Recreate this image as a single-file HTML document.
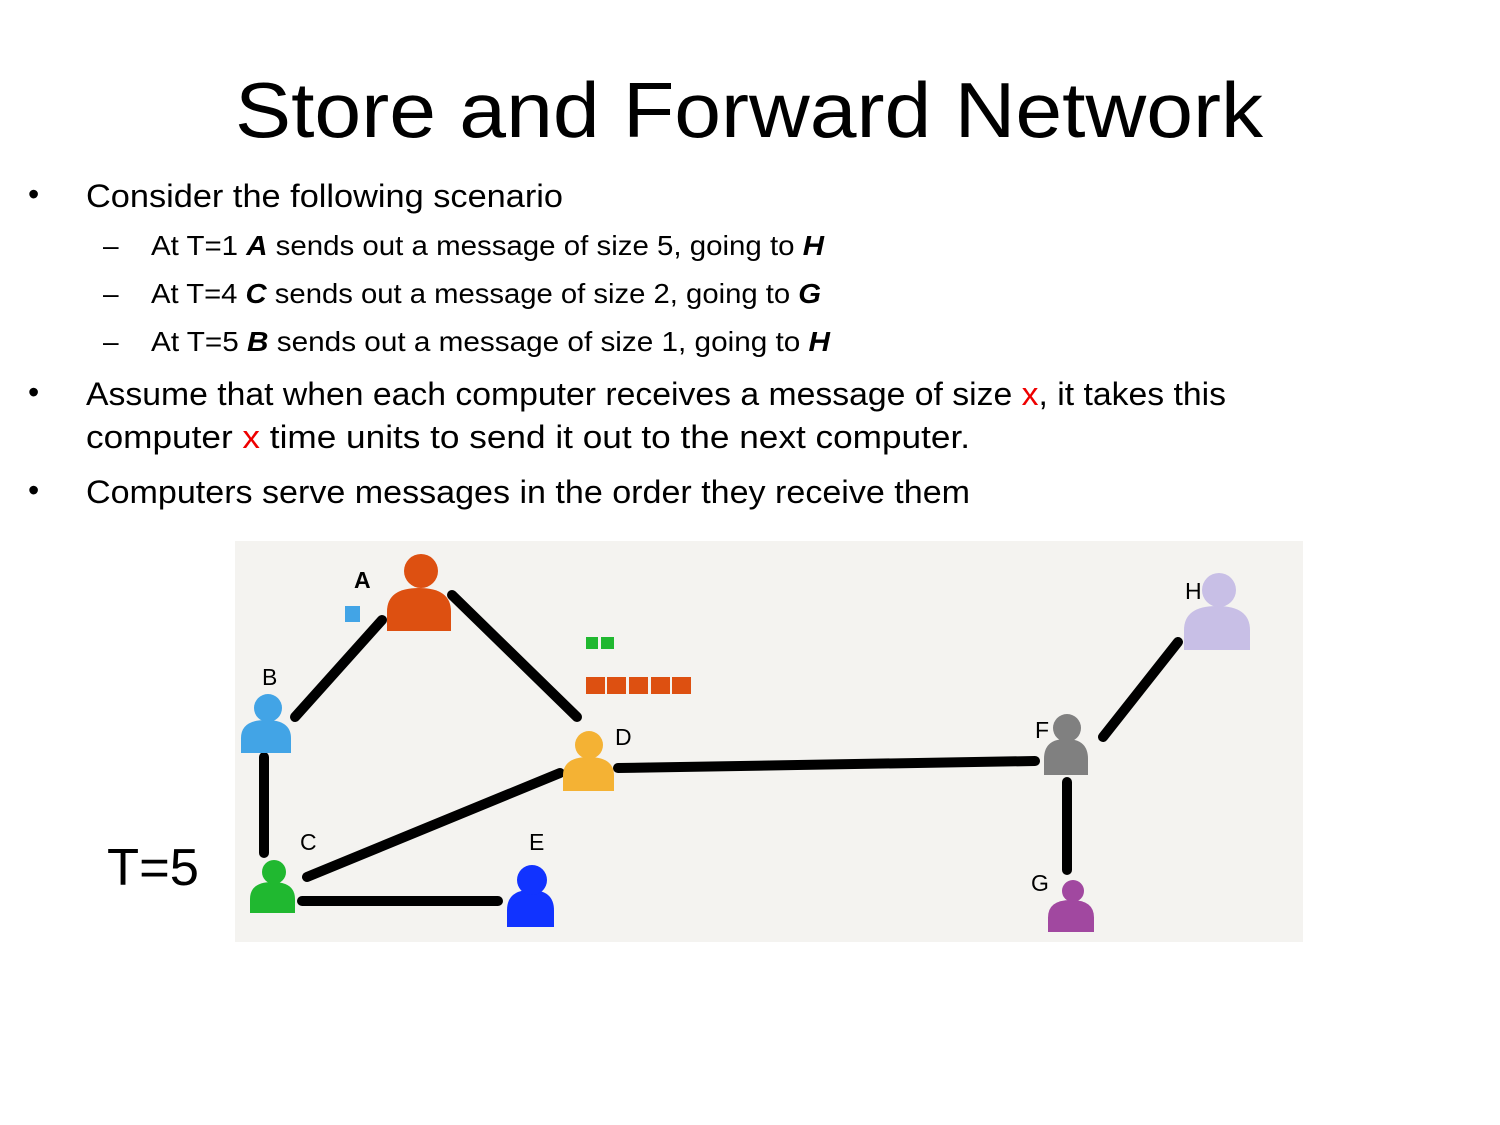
<!DOCTYPE html>
<html><head><meta charset="utf-8"><style>
html,body{margin:0;padding:0;background:#fff;}
svg{display:block;}
text{font-family:"Liberation Sans",sans-serif;}
</style></head><body>
<svg id="s" width="1500" height="1125" viewBox="0 0 1500 1125" xmlns="http://www.w3.org/2000/svg">
<rect width="1500" height="1125" fill="#fff"/>
<text x="235" y="137" font-size="78" textLength="1028" lengthAdjust="spacingAndGlyphs">Store and Forward Network</text>
<g font-size="32">
<text x="28" y="205">•</text>
<text x="86" y="207" textLength="477" lengthAdjust="spacingAndGlyphs">Consider the following scenario</text>
<text x="28" y="403">•</text>
<text x="86" y="405" textLength="1140" lengthAdjust="spacingAndGlyphs">Assume that when each computer receives a message of size <tspan fill="#e00">x</tspan>, it takes this</text>
<text x="86" y="448" textLength="884" lengthAdjust="spacingAndGlyphs">computer <tspan fill="#e00">x</tspan> time units to send it out to the next computer.</text>
<text x="28" y="501">•</text>
<text x="86" y="503" textLength="884" lengthAdjust="spacingAndGlyphs">Computers serve messages in the order they receive them</text>
</g>
<g font-size="28">
<text x="103" y="255">–</text><text x="103" y="303">–</text><text x="103" y="351">–</text>
<text x="151" y="255" textLength="673" lengthAdjust="spacingAndGlyphs">At T=1 <tspan font-weight="bold" font-style="italic">A</tspan> sends out a message of size 5, going to <tspan font-weight="bold" font-style="italic">H</tspan></text>
<text x="151" y="303" textLength="670" lengthAdjust="spacingAndGlyphs">At T=4 <tspan font-weight="bold" font-style="italic">C</tspan> sends out a message of size 2, going to <tspan font-weight="bold" font-style="italic">G</tspan></text>
<text x="151" y="351" textLength="679" lengthAdjust="spacingAndGlyphs">At T=5  <tspan font-weight="bold" font-style="italic">B</tspan> sends out a message of size 1, going to <tspan font-weight="bold" font-style="italic">H</tspan></text>
</g>
<text x="107" y="885" font-size="52" textLength="92" lengthAdjust="spacingAndGlyphs">T=5</text>
<rect x="235" y="541" width="1068" height="401" fill="#f4f3f0"/>
<g stroke="#000" stroke-width="10" stroke-linecap="round" fill="none">
<line x1="382" y1="620" x2="295" y2="717"/>
<line x1="452" y1="595" x2="577" y2="717"/>
<line x1="264" y1="757" x2="264" y2="853"/>
<line x1="307" y1="877" x2="560" y2="773"/>
<line x1="302" y1="901" x2="498" y2="901"/>
<line x1="618" y1="768" x2="1035" y2="761"/>
<line x1="1103" y1="737" x2="1178" y2="642"/>
<line x1="1067" y1="782" x2="1067" y2="870"/>
</g>
<g id="p"></g>
<rect x="345" y="606" width="15" height="16" fill="#42a4e6"/>
<rect x="586" y="637" width="12" height="12" fill="#20b830"/>
<rect x="601" y="637" width="13" height="12" fill="#20b830"/>
<g fill="#dd5011">
<rect x="586" y="677" width="19" height="17"/><rect x="607" y="677" width="19" height="17"/><rect x="629" y="677" width="19" height="17"/><rect x="651" y="677" width="19" height="17"/><rect x="672" y="677" width="19" height="17"/>
</g>
<g font-size="23">
<text x="354" y="588" font-weight="bold">A</text>
<text x="262" y="685">B</text>
<text x="300" y="850">C</text>
<text x="615" y="745">D</text>
<text x="529" y="850">E</text>
<text x="1035" y="738">F</text>
<text x="1031" y="891">G</text>
<text x="1185" y="599">H</text>
</g>
</svg>
<script>
var P=[[421,571,17,387,451,588,631,"#dd5011"],[268,708,14,241,291,720,753,"#42a4e6"],[274,872,12,250,295,882,913,"#20b830"],[589,745,14,563,614,757,791,"#f4b234"],[532,880,15,507,554,890,927,"#1133ff"],[1067,728,14,1044,1088,739,775,"#808080"],[1073,891,11,1048,1094,900,932,"#a148a0"],[1219,590,17,1184,1250,606,650,"#c8bfe6"]];
var g=document.getElementById('p'),h='';
P.forEach(function(a){var cx=a[0],cy=a[1],r=a[2],x0=a[3],x1=a[4],yt=a[5],yb=a[6],c=a[7],m=(x0+x1)/2,k=yb-(yb-yt)*0.45;
h+='<path d="M'+x0+','+yb+' L'+x0+','+k+' Q'+x0+','+yt+' '+m+','+yt+' Q'+x1+','+yt+' '+x1+','+k+' L'+x1+','+yb+' Z" fill="'+c+'"/>';
h+='<circle cx="'+cx+'" cy="'+cy+'" r="'+r+'" fill="'+c+'"/>';});
g.innerHTML=h;
</script>
</body></html>
